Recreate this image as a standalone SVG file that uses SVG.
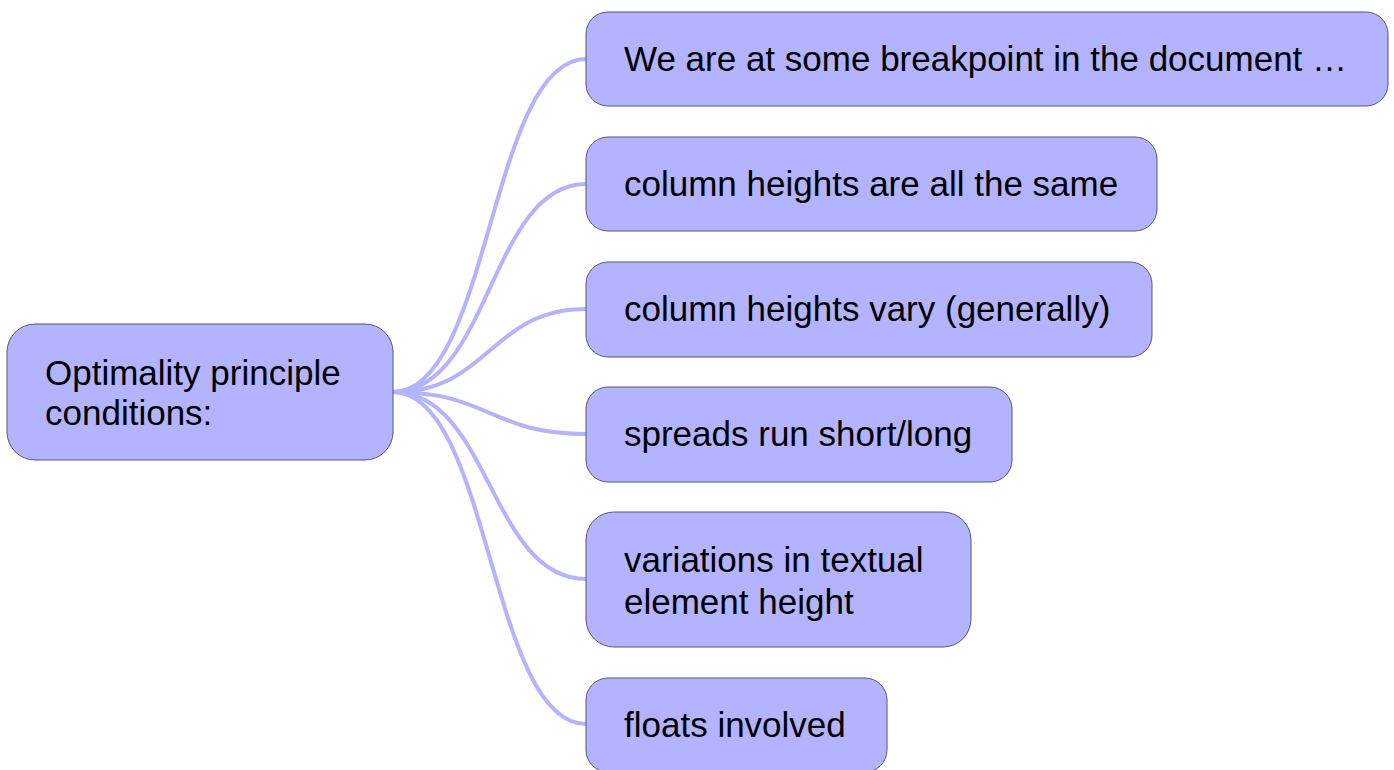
<svg xmlns="http://www.w3.org/2000/svg" width="1394" height="770" viewBox="0 0 1394 770">
<style>
.node rect{fill:#b3b3ff;stroke:#55557a;stroke-width:1}
.node text{font-family:"Liberation Sans",Arial,sans-serif;font-size:35px;fill:#000}
.edge{fill:none;stroke:#b3b3ff;stroke-width:4}
</style>
<rect width="1394" height="770" fill="#fff"/>
<g id="connectors">
<path class="edge" d="M393,392 C490,392 490,59 586,59"/>
<path class="edge" d="M393,392 C490,392 490,184 586,184"/>
<path class="edge" d="M393,392 C490,392 490,309 586,309"/>
<path class="edge" d="M393,392 C490,392 490,434 586,434"/>
<path class="edge" d="M393,392 C490,392 490,579 586,579"/>
<path class="edge" d="M393,392 C490,392 490,724 586,724"/>
</g>
<g id="root" class="node"><rect x="7" y="324" width="386" height="136" rx="28"/><text x="45" y="385">Optimality principle</text><text x="45" y="425">conditions:</text></g>
<g id="n1" class="node"><rect x="586" y="12" width="802" height="94" rx="22"/><text x="624" y="71">We are at some breakpoint in the document …</text></g>
<g id="n2" class="node"><rect x="586" y="137" width="571" height="94" rx="22"/><text x="624" y="196">column heights are all the same</text></g>
<g id="n3" class="node"><rect x="586" y="262" width="566" height="95" rx="22"/><text x="624" y="321">column heights vary (generally)</text></g>
<g id="n4" class="node"><rect x="586" y="387" width="426" height="95" rx="22"/><text x="624" y="446">spreads run short/long</text></g>
<g id="n5" class="node"><rect x="586" y="512" width="385" height="135" rx="28"/><text x="624" y="572">variations in textual</text><text x="624" y="614">element height</text></g>
<g id="n6" class="node"><rect x="586" y="678" width="301" height="94" rx="22"/><text x="624" y="737">floats involved</text></g>
</svg>
